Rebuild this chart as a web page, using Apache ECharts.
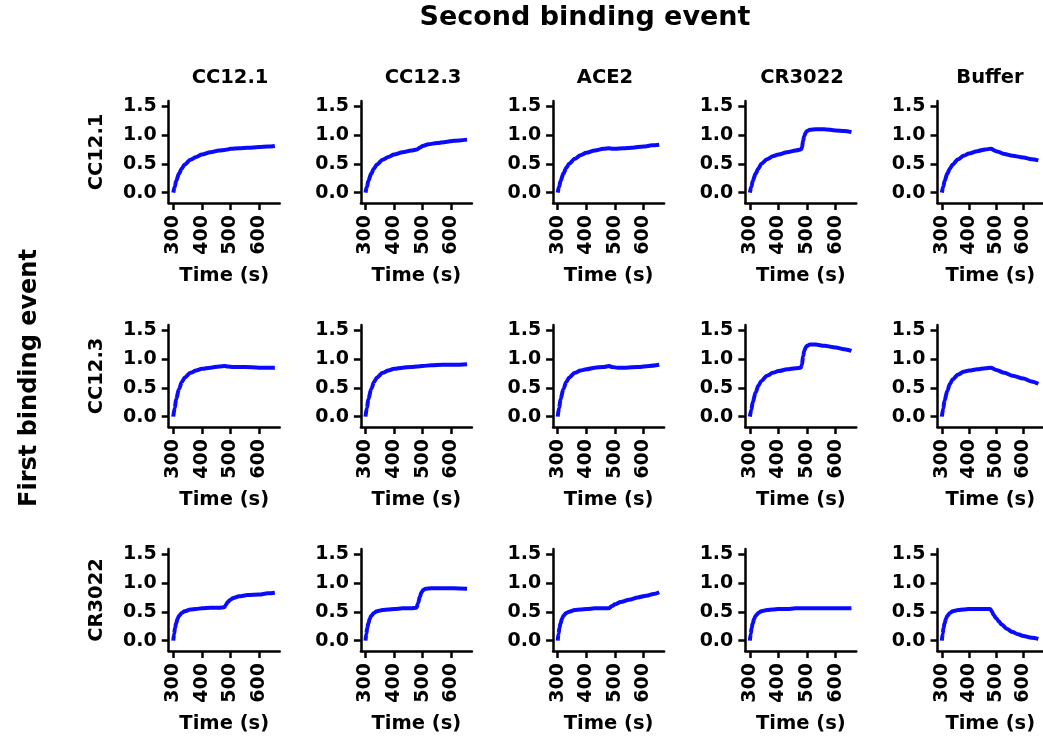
<!DOCTYPE html>
<html><head><meta charset="utf-8">
<script src="https://cdn.jsdelivr.net/npm/echarts@6/dist/echarts.min.js"></script>
<style>html,body{margin:0;padding:0;background:#fff}#c{width:1043px;height:740px}</style>
</head><body><div id="c"></div>
<script>
// ---------- labels ----------
const mainTitle = 'Second binding event';
const sideTitle = 'First binding event';
const colNames = ['CC12.1', 'CC12.3', 'ACE2', 'CR3022', 'Buffer'];
const rowNames = ['CC12.1', 'CC12.3', 'CR3022'];
const xName = 'Time (s)';
const xTicks = [300, 400, 500, 600];
const xTickLabels = ['300', '400', '500', '600'];
const yTicks = [0, 0.5, 1, 1.5];
const yTickLabels = ['0.0', '0.5', '1.0', '1.5'];

// ---------- data: [time (s), response] ----------
// first: CC12.1
const cc121_cc121 = [[300,0],[305,0.1],[310,0.2],[320,0.33],[330,0.42],[340,0.49],[360,0.57],[380,0.62],[400,0.66],[430,0.7],[460,0.73],[480,0.74],[490,0.75],[500,0.76],[530,0.77],[560,0.78],[600,0.79],[630,0.8],[655,0.81]];
const cc121_cc123 = [[300,0],[305,0.1],[310,0.2],[320,0.33],[330,0.42],[340,0.49],[360,0.57],[380,0.62],[400,0.66],[430,0.7],[460,0.73],[480,0.75],[490,0.78],[500,0.81],[520,0.84],[550,0.86],[580,0.88],[610,0.9],[655,0.92]];
const cc121_ace2 = [[300,0],[305,0.1],[310,0.2],[320,0.33],[330,0.43],[340,0.5],[360,0.59],[380,0.65],[400,0.69],[430,0.73],[460,0.76],[480,0.77],[490,0.76],[500,0.76],[530,0.77],[560,0.78],[600,0.8],[630,0.82],[655,0.83]];
const cc121_cr3022 = [[300,0],[305,0.1],[310,0.2],[320,0.33],[330,0.42],[340,0.5],[360,0.58],[380,0.63],[400,0.66],[430,0.7],[460,0.73],[478,0.75],[482,0.78],[486,0.9],[490,0.98],[495,1.04],[500,1.07],[510,1.09],[530,1.1],[560,1.1],[600,1.08],[630,1.07],[655,1.05]];
const cc121_buffer = [[300,0],[305,0.1],[310,0.2],[320,0.33],[330,0.42],[340,0.49],[360,0.58],[380,0.64],[400,0.68],[430,0.72],[460,0.75],[480,0.76],[500,0.72],[530,0.67],[560,0.64],[600,0.61],[630,0.58],[655,0.56]];
// first: CC12.3
const cc123_cc121 = [[300,0],[305,0.15],[310,0.3],[320,0.48],[330,0.6],[340,0.68],[360,0.76],[380,0.8],[400,0.83],[430,0.85],[460,0.87],[480,0.88],[490,0.87],[510,0.86],[550,0.86],[600,0.85],[655,0.85]];
const cc123_cc123 = [[300,0],[305,0.15],[310,0.3],[320,0.48],[330,0.6],[340,0.68],[360,0.76],[380,0.8],[400,0.83],[430,0.85],[460,0.86],[480,0.87],[500,0.88],[530,0.89],[570,0.9],[610,0.9],[655,0.91]];
const cc123_ace2 = [[300,0],[305,0.15],[310,0.3],[320,0.48],[330,0.6],[340,0.68],[360,0.76],[380,0.8],[400,0.82],[430,0.85],[460,0.86],[480,0.88],[490,0.86],[510,0.85],[540,0.85],[580,0.86],[620,0.88],[655,0.9]];
const cc123_cr3022 = [[300,0],[305,0.12],[310,0.25],[320,0.42],[330,0.54],[340,0.62],[360,0.71],[380,0.76],[400,0.79],[430,0.82],[460,0.84],[478,0.85],[482,0.9],[486,1.05],[490,1.14],[495,1.2],[500,1.23],[510,1.25],[530,1.25],[560,1.23],[600,1.2],[630,1.17],[655,1.14]];
const cc123_buffer = [[300,0],[305,0.14],[310,0.28],[320,0.45],[330,0.57],[340,0.65],[360,0.73],[380,0.78],[400,0.8],[430,0.82],[460,0.84],[480,0.85],[500,0.81],[530,0.76],[560,0.71],[600,0.66],[630,0.61],[655,0.57]];
// first: CR3022
const cr3022_cc121 = [[300,0],[303,0.12],[306,0.22],[310,0.3],[315,0.38],[320,0.43],[330,0.48],[340,0.51],[360,0.54],[380,0.55],[400,0.56],[430,0.57],[460,0.57],[478,0.58],[484,0.62],[490,0.67],[500,0.71],[510,0.74],[530,0.77],[560,0.79],[600,0.8],[630,0.82],[655,0.83]];
const cr3022_cc123 = [[300,0],[303,0.12],[306,0.22],[310,0.3],[315,0.38],[320,0.43],[330,0.48],[340,0.51],[360,0.53],[380,0.54],[400,0.55],[430,0.56],[460,0.56],[478,0.57],[484,0.65],[490,0.76],[496,0.84],[502,0.88],[510,0.9],[530,0.91],[570,0.91],[610,0.91],[655,0.9]];
const cr3022_ace2 = [[300,0],[303,0.12],[306,0.22],[310,0.3],[315,0.38],[320,0.43],[330,0.48],[340,0.5],[360,0.53],[380,0.54],[400,0.55],[430,0.56],[460,0.56],[478,0.56],[490,0.6],[500,0.63],[520,0.67],[550,0.71],[580,0.75],[610,0.78],[635,0.81],[655,0.84]];
const cr3022_cr3022 = [[300,0],[303,0.12],[306,0.22],[310,0.3],[315,0.38],[320,0.43],[330,0.48],[340,0.51],[360,0.53],[380,0.54],[400,0.55],[430,0.55],[460,0.56],[480,0.56],[530,0.56],[580,0.56],[630,0.56],[655,0.56]];
const cr3022_buffer = [[300,0],[303,0.12],[306,0.22],[310,0.3],[315,0.38],[320,0.43],[330,0.48],[340,0.51],[360,0.53],[380,0.54],[400,0.55],[430,0.55],[460,0.55],[478,0.55],[485,0.5],[490,0.45],[500,0.39],[510,0.33],[520,0.28],[540,0.2],[560,0.15],[580,0.11],[600,0.08],[630,0.05],[655,0.03]];

const panels = [
  [cc121_cc121, cc121_cc123, cc121_ace2, cc121_cr3022, cc121_buffer],
  [cc123_cc121, cc123_cc123, cc123_ace2, cc123_cr3022, cc123_buffer],
  [cr3022_cc121, cr3022_cc123, cr3022_ace2, cr3022_cr3022, cr3022_buffer]
];

// ---------- layout ----------
const FONT = '"DejaVu Sans", Verdana, sans-serif';
const X0 = 168.7, DX = 192.2, GW = 111;
const Y0 = 101, DY = 224, GH = 102;
const colTitleX = [230, 423, 605, 802, 990];
const lineColor = '#0a0aff';

const grid = [], xAxis = [], yAxis = [], series = [];
let idx = 0;
for (let r = 0; r < rowNames.length; r++) {
  for (let c = 0; c < colNames.length; c++) {
    grid.push({ left: X0 + DX * c, top: Y0 + DY * r, width: GW, height: GH, containLabel: false });
    xAxis.push({
      type: 'value', gridIndex: idx, min: 284, max: 672,
      axisLine: { show: true, onZero: false, lineStyle: { color: '#000', width: 2.5 } },
      axisTick: { show: true, customValues: xTicks, length: 7, lineStyle: { color: '#000', width: 2.5 } },
      axisLabel: {
        customValues: xTicks, rotate: 90, margin: 12,
        formatter: v => xTickLabels[xTicks.indexOf(v)] ?? '',
        color: '#000', fontSize: 19, fontWeight: 'bold', fontFamily: FONT
      },
      splitLine: { show: false },
      name: xName, nameLocation: 'middle', nameGap: 63,
      nameTextStyle: { color: '#000', fontSize: 19.5, fontWeight: 'bold', fontFamily: FONT }
    });
    const ya = {
      type: 'value', gridIndex: idx, min: -0.18, max: 1.59,
      axisLine: { show: true, onZero: false, lineStyle: { color: '#000', width: 2.5 } },
      axisTick: { show: true, customValues: yTicks, length: 7, lineStyle: { color: '#000', width: 2.5 } },
      axisLabel: {
        customValues: yTicks, margin: 12,
        formatter: v => yTickLabels[yTicks.indexOf(v)] ?? '',
        color: '#000', fontSize: 19, fontWeight: 'bold', fontFamily: FONT
      },
      splitLine: { show: false }
    };
    if (c === 0) {
      ya.name = rowNames[r];
      ya.nameLocation = 'middle';
      ya.nameRotate = 90;
      ya.nameGap = 62;
      ya.nameTextStyle = { color: '#000', fontSize: 19.5, fontWeight: 'bold', fontFamily: FONT };
    }
    yAxis.push(ya);
    series.push({
      type: 'line', xAxisIndex: idx, yAxisIndex: idx,
      data: panels[r][c], showSymbol: false, smooth: 0.3, smoothMonotone: 'x',
      lineStyle: { color: lineColor, width: 4 }, itemStyle: { color: lineColor },
      animation: false
    });
    idx++;
  }
}

const graphic = [
  { type: 'text', x: 585, y: 18,
    style: { text: mainTitle, font: 'bold 27px ' + FONT, fill: '#000', align: 'center', verticalAlign: 'middle' } },
  { type: 'text', x: 30, y: 378, rotation: Math.PI / 2,
    style: { text: sideTitle, font: 'bold 24px ' + FONT, fill: '#000', align: 'center', verticalAlign: 'middle' } }
];
colNames.forEach((n, c) => {
  graphic.push({ type: 'text', x: colTitleX[c], y: 78,
    style: { text: n, font: 'bold 19.5px ' + FONT, fill: '#000', align: 'center', verticalAlign: 'middle' } });
});

const chart = echarts.init(document.getElementById('c'), null, { renderer: 'canvas' });
chart.setOption({ animation: false, backgroundColor: '#fff', grid, xAxis, yAxis, series, graphic });
</script>
</body></html>
